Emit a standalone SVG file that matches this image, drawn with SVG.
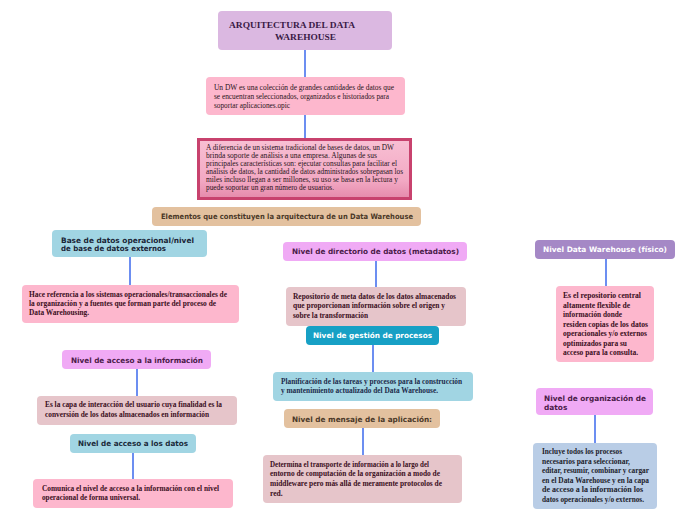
<svg xmlns="http://www.w3.org/2000/svg" width="696" height="520" viewBox="0 0 696 520">
<defs>
<linearGradient id="g3" x1="0" y1="0" x2="0" y2="1">
<stop offset="0" stop-color="#f8c0d4"/>
<stop offset="0.7" stop-color="#f2a8c3"/>
<stop offset="1" stop-color="#e58aab"/>
</linearGradient>
</defs>
<style>
.s{font-family:"Liberation Serif","Times New Roman",serif;font-size:7.6px;fill:#2a1420}
.sb{font-family:"Liberation Serif","Times New Roman",serif;font-size:7.6px;font-weight:bold;fill:#3a0e1c}
.l{font-family:"DejaVu Sans",Verdana,sans-serif;font-size:7.4px;font-weight:bold}
.c{stroke:#3b68ec;stroke-width:1.5;fill:none}
</style>
<rect width="696" height="520" fill="#ffffff"/>
<g id="connectors">
<line class="c" x1="305" y1="50" x2="305" y2="77"/>
<line class="c" x1="305" y1="115" x2="305" y2="138"/>
<line class="c" x1="130" y1="257" x2="130" y2="285"/>
<line class="c" x1="137" y1="369" x2="137" y2="396"/>
<line class="c" x1="133" y1="453" x2="133" y2="479"/>
<line class="c" x1="376" y1="261" x2="376" y2="287"/>
<line class="c" x1="373" y1="345" x2="373" y2="372"/>
<line class="c" x1="363" y1="428" x2="363" y2="455"/>
<line class="c" x1="606" y1="259" x2="606" y2="286"/>
<line class="c" x1="595" y1="415" x2="595" y2="443"/>
</g>
<g id="title">
<rect x="218" y="11" width="174" height="39" rx="4" fill="#dbb8e1"/>
<text x="229" y="28" style="font-family:'Liberation Serif',serif;font-size:9px;font-weight:bold;fill:#3a1a46" textLength="126" lengthAdjust="spacingAndGlyphs">ARQUITECTURA DEL DATA</text>
<text x="275" y="40" style="font-family:'Liberation Serif',serif;font-size:9px;font-weight:bold;fill:#3a1a46" textLength="61" lengthAdjust="spacingAndGlyphs">WAREHOUSE</text>
</g>
<g id="definicion">
<rect x="206" y="77" width="199" height="38" rx="4" fill="#fdb7cd"/>
<text class="s" x="214" y="90" textLength="180" lengthAdjust="spacingAndGlyphs">Un DW es una colección de grandes cantidades de datos que</text>
<text class="s" x="214" y="99" textLength="175" lengthAdjust="spacingAndGlyphs">se encuentran seleccionados, organizados e historiados para</text>
<text class="s" x="214" y="108" textLength="76" lengthAdjust="spacingAndGlyphs">soportar aplicaciones.opic</text>
</g>
<g id="diferencia">
<rect x="198.5" y="139.5" width="212" height="59" fill="url(#g3)" stroke="#c8426e" stroke-width="3"/>
<text class="s" x="206" y="150" textLength="188" lengthAdjust="spacingAndGlyphs">A diferencia de un sistema tradicional de bases de datos, un DW</text>
<text class="s" x="206" y="158" textLength="171" lengthAdjust="spacingAndGlyphs">brinda soporte de análisis a una empresa. Algunas de sus</text>
<text class="s" x="206" y="166" textLength="191" lengthAdjust="spacingAndGlyphs">principales características son: ejecutar consultas para facilitar el</text>
<text class="s" x="206" y="174" textLength="197" lengthAdjust="spacingAndGlyphs">análisis de datos, la cantidad de datos administrados sobrepasan los</text>
<text class="s" x="206" y="182" textLength="192" lengthAdjust="spacingAndGlyphs">miles incluso llegan a ser millones, su uso se basa en la lectura y</text>
<text class="s" x="206" y="190" textLength="128" lengthAdjust="spacingAndGlyphs">puede soportar un gran número de usuarios.</text>
</g>
<g id="elementos">
<rect x="152" y="207" width="269" height="19" rx="4" fill="#e3c19f"/>
<text class="l" x="161" y="219" fill="#4a3828" textLength="252" lengthAdjust="spacingAndGlyphs">Elementos que constituyen la arquitectura de un Data Warehouse</text>
</g>
<g id="base-datos">
<rect x="52" y="230" width="155" height="27" rx="4" fill="#a1d5e3"/>
<text class="l" x="61" y="243" fill="#1a2436" textLength="133" lengthAdjust="spacingAndGlyphs">Base de datos operacional/nivel</text>
<text class="l" x="61" y="251" fill="#1a2436" textLength="105" lengthAdjust="spacingAndGlyphs">de base de datos externos</text>
</g>
<g id="base-datos-desc">
<rect x="22" y="285" width="217" height="38" rx="4" fill="#fdb7cd"/>
<text class="sb" x="29" y="297" textLength="198" lengthAdjust="spacingAndGlyphs">Hace referencia a los sistemas operacionales/transaccionales de</text>
<text class="sb" x="29" y="306" textLength="187" lengthAdjust="spacingAndGlyphs">la organización y a fuentes que forman parte del proceso de</text>
<text class="sb" x="29" y="315" textLength="60" lengthAdjust="spacingAndGlyphs">Data Warehousing.</text>
</g>
<g id="acceso-info">
<rect x="62" y="350" width="149" height="19" rx="4" fill="#f0aaf5"/>
<text class="l" x="71" y="363" fill="#4a1a48" textLength="132" lengthAdjust="spacingAndGlyphs">Nivel de acceso a la información</text>
</g>
<g id="acceso-info-desc">
<rect x="37" y="396" width="200" height="29" rx="4" fill="#e6c5ca"/>
<text class="sb" x="45" y="407" textLength="177" lengthAdjust="spacingAndGlyphs">Es la capa de interacción del usuario cuya finalidad es la</text>
<text class="sb" x="45" y="417" textLength="164" lengthAdjust="spacingAndGlyphs">conversión de los datos almacenados en información</text>
</g>
<g id="acceso-datos">
<rect x="70" y="434" width="126" height="19" rx="4" fill="#a1d5e3"/>
<text class="l" x="78" y="446" fill="#1a2a3a" textLength="110" lengthAdjust="spacingAndGlyphs">Nivel de acceso a los datos</text>
</g>
<g id="acceso-datos-desc">
<rect x="33" y="479" width="200" height="29" rx="4" fill="#fdb7cd"/>
<text class="sb" x="42" y="491" textLength="177" lengthAdjust="spacingAndGlyphs">Comunica el nivel de acceso a la información con el nivel</text>
<text class="sb" x="42" y="500" textLength="98" lengthAdjust="spacingAndGlyphs">operacional de forma universal.</text>
</g>
<g id="directorio">
<rect x="283" y="242" width="184" height="19" rx="4" fill="#f0aaf5"/>
<text class="l" x="292" y="254" fill="#4a1a48" textLength="167" lengthAdjust="spacingAndGlyphs">Nivel de directorio de datos (metadatos)</text>
</g>
<g id="directorio-desc">
<rect x="286" y="287" width="180" height="39" rx="4" fill="#e6c5ca"/>
<text class="sb" x="293" y="299" textLength="163" lengthAdjust="spacingAndGlyphs">Repositorio de meta datos de los datos almacenados</text>
<text class="sb" x="293" y="308" textLength="152" lengthAdjust="spacingAndGlyphs">que proporcionan información sobre el origen y</text>
<text class="sb" x="293" y="318" textLength="75" lengthAdjust="spacingAndGlyphs">sobre la transformación</text>
</g>
<g id="gestion">
<rect x="306" y="326" width="133" height="19" rx="4" fill="#17a0c5"/>
<text class="l" x="313" y="338" fill="#ffffff" textLength="119" lengthAdjust="spacingAndGlyphs">Nivel de gestión de procesos</text>
</g>
<g id="gestion-desc">
<rect x="273" y="372" width="200" height="29" rx="4" fill="#a1d5e3"/>
<text class="sb" x="281" y="384" style="fill:#1c2a4a" textLength="181" lengthAdjust="spacingAndGlyphs">Planificación de las tareas y procesos para la construcción</text>
<text class="sb" x="281" y="393" style="fill:#1c2a4a" textLength="157" lengthAdjust="spacingAndGlyphs">y mantenimiento actualizado del Data Warehouse.</text>
</g>
<g id="mensaje">
<rect x="284" y="409" width="156" height="19" rx="4" fill="#e3c19f"/>
<text class="l" x="292" y="422" fill="#4a3828" textLength="140" lengthAdjust="spacingAndGlyphs">Nivel de mensaje de la aplicación:</text>
</g>
<g id="mensaje-desc">
<rect x="263" y="455" width="199" height="48" rx="4" fill="#e6c5ca"/>
<text class="sb" x="270" y="467" textLength="159" lengthAdjust="spacingAndGlyphs">Determina el transporte de información a lo largo del</text>
<text class="sb" x="270" y="476" textLength="170" lengthAdjust="spacingAndGlyphs">entorno de computación de la organización a modo de</text>
<text class="sb" x="270" y="486" textLength="172" lengthAdjust="spacingAndGlyphs">middleware pero más allá de meramente protocolos de</text>
<text class="sb" x="270" y="496">red.</text>
</g>
<g id="dw-fisico">
<rect x="535" y="240" width="140" height="19" rx="4" fill="#a588c6"/>
<text class="l" x="543" y="252" fill="#ffffff" textLength="124" lengthAdjust="spacingAndGlyphs">Nivel Data Warehouse (físico)</text>
</g>
<g id="dw-fisico-desc">
<rect x="556" y="286" width="98" height="76" rx="4" fill="#fdb7cd"/>
<text class="sb" x="563" y="298" textLength="78" lengthAdjust="spacingAndGlyphs">Es el repositorio central</text>
<text class="sb" x="563" y="307.5" textLength="67" lengthAdjust="spacingAndGlyphs">altamente flexible de</text>
<text class="sb" x="563" y="317" textLength="59" lengthAdjust="spacingAndGlyphs">información donde</text>
<text class="sb" x="563" y="326.5" textLength="85" lengthAdjust="spacingAndGlyphs">residen copias de los datos</text>
<text class="sb" x="563" y="336" textLength="84" lengthAdjust="spacingAndGlyphs">operacionales y/o externos</text>
<text class="sb" x="563" y="345.5" textLength="64" lengthAdjust="spacingAndGlyphs">optimizados para su</text>
<text class="sb" x="563" y="355" textLength="75" lengthAdjust="spacingAndGlyphs">acceso para la consulta.</text>
</g>
<g id="organizacion">
<rect x="536" y="388" width="117" height="27" rx="4" fill="#f0aaf5"/>
<text class="l" x="544" y="401" fill="#4a1a48" textLength="102" lengthAdjust="spacingAndGlyphs">Nivel de organización de</text>
<text class="l" x="544" y="409.5" fill="#4a1a48">datos</text>
</g>
<g id="organizacion-desc">
<rect x="533" y="443" width="124" height="66" rx="4" fill="#b9cde6"/>
<text class="sb" x="542" y="454" style="fill:#1c1c2a" textLength="80" lengthAdjust="spacingAndGlyphs">Incluye todos los procesos</text>
<text class="sb" x="542" y="463.5" style="fill:#1c1c2a" textLength="88" lengthAdjust="spacingAndGlyphs">necesarios para seleccionar,</text>
<text class="sb" x="542" y="473" style="fill:#1c1c2a" textLength="107" lengthAdjust="spacingAndGlyphs">editar, resumir, combinar y cargar</text>
<text class="sb" x="542" y="482.5" style="fill:#1c1c2a" textLength="107" lengthAdjust="spacingAndGlyphs">en el Data Warehouse y en la capa</text>
<text class="sb" x="542" y="492" style="fill:#1c1c2a" textLength="101" lengthAdjust="spacingAndGlyphs">de acceso a la información los</text>
<text class="sb" x="542" y="501.5" style="fill:#1c1c2a" textLength="102" lengthAdjust="spacingAndGlyphs">datos operacionales y/o externos.</text>
</g>
</svg>
